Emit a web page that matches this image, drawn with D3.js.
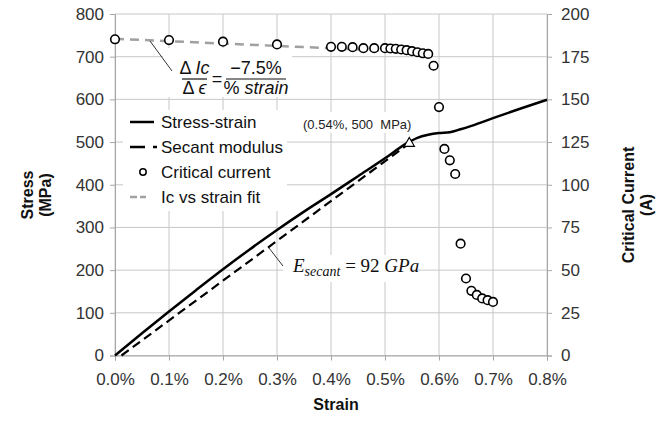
<!DOCTYPE html>
<html>
<head>
<meta charset="utf-8">
<script src="https://cdn.jsdelivr.net/npm/d3@7"></script>
<style>
  body { margin: 0; background: #fff; }
  text { font-family: "Liberation Sans", Arial, sans-serif; }
  .math { font-family: "Liberation Serif", "Times New Roman", serif; }
</style>
</head>
<body>
<div id="chart"></div>
<script>
// tick values
const strainTicks = [0, 0.1, 0.2, 0.3, 0.4, 0.5, 0.6, 0.7, 0.8];
const stressTicks = [0, 100, 200, 300, 400, 500, 600, 700, 800];
const currentTicks = [0, 25, 50, 75, 100, 125, 150, 175, 200];

// stress-strain curve (strain %, MPa)
const ssStrain = [0, 0.05, 0.10, 0.15, 0.20, 0.25, 0.30, 0.35, 0.40, 0.45, 0.50, 0.54, 0.56, 0.58, 0.60, 0.62, 0.64, 0.66, 0.70, 0.75, 0.80];
const ssStress = [0, 52, 103, 153, 202, 249, 294, 337, 378, 420, 462, 497, 510, 517, 521, 523, 530, 538, 556, 578, 599];

// secant modulus line
const secantStrain = [0.012, 0.545];
const secantStress = [0, 497];

// critical current (strain %, A)
const icStrain = [0, 0.1, 0.2, 0.3, 0.4, 0.42, 0.44, 0.46, 0.48, 0.50, 0.51, 0.52, 0.53, 0.54, 0.55, 0.56, 0.57, 0.58, 0.59, 0.60, 0.61, 0.62, 0.63, 0.64, 0.65, 0.66, 0.67, 0.68, 0.69, 0.70];
const icCurrent = [185.2, 184.7, 183.8, 182.2, 180.8, 180.8, 180.6, 180.0, 180.0, 180.0, 179.8, 179.6, 179.2, 178.8, 178.2, 177.6, 177.0, 176.6, 169.7, 145.5, 121, 114.3, 106.3, 65.5, 45.1, 37.9, 35.5, 33.4, 32.4, 31.4];

// Ic vs strain fit
const fitStrain = [0, 0.58];
const fitCurrent = [185.5, 177.4];

// marked point
const markStrain = [0.545];
const markStress = [497];

const W = 670, H = 436;
const pLeft = 115, pRight = 547, pTop = 14, pBottom = 355.5;

const svg = d3.select('#chart').append('svg')
    .attr('width', W)
    .attr('height', H);

const x = d3.scaleLinear().domain([0, 0.8]).range([pLeft, pRight]);
const y = d3.scaleLinear().domain([0, 800]).range([pBottom, pTop]);
const y2 = d3.scaleLinear().domain([0, 200]).range([pBottom, pTop]);

// grid
svg.append('g').selectAll('line')
    .data(stressTicks)
    .enter().append('line')
    .attr('x1', pLeft).attr('x2', pRight)
    .attr('y1', d => y(d)).attr('y2', d => y(d))
    .attr('stroke', '#c8c8c8');
svg.append('g').selectAll('line')
    .data(strainTicks)
    .enter().append('line')
    .attr('x1', d => x(d)).attr('x2', d => x(d))
    .attr('y1', pTop).attr('y2', pBottom)
    .attr('stroke', '#c8c8c8');

// axes
const fmtPct = d => d3.format('.1f')(d) + '%';
const xAxis = svg.append('g').attr('transform', `translate(0,${pBottom})`)
    .call(d3.axisBottom(x).tickValues(strainTicks).tickFormat(fmtPct).tickSize(5).tickPadding(12));
const yAxis = svg.append('g').attr('transform', `translate(${pLeft},0)`)
    .call(d3.axisLeft(y).tickValues(stressTicks).tickSize(5).tickPadding(6));
const y2Axis = svg.append('g').attr('transform', `translate(${pRight},0)`)
    .call(d3.axisRight(y2).tickValues(currentTicks).tickSize(5).tickPadding(9));

[xAxis, yAxis, y2Axis].forEach(g => {
    g.select('.domain').attr('stroke', '#a6a6a6');
    g.selectAll('.tick line').attr('stroke', '#a6a6a6');
    g.selectAll('text')
        .attr('font-size', 17)
        .attr('fill', '#333')
        .style('font-family', '"Liberation Sans", Arial, sans-serif');
});

// white label boxes that cover the grid
svg.append('rect').attr('x', 163).attr('y', 48).attr('width', 129).attr('height', 49).attr('fill', '#fff');
svg.append('rect').attr('x', 300).attr('y', 112).attr('width', 112).attr('height', 21).attr('fill', '#fff');
svg.append('rect').attr('x', 283).attr('y', 255).attr('width', 130).attr('height', 27).attr('fill', '#fff');
svg.append('rect').attr('x', 123).attr('y', 110).attr('width', 164).attr('height', 101).attr('fill', '#fff');

// Ic fit line
const fitLine = d3.line().x(i => x(fitStrain[i])).y(i => y2(fitCurrent[i]));
svg.append('path')
    .attr('d', fitLine(d3.range(fitStrain.length)))
    .attr('fill', 'none')
    .attr('stroke', '#a0a0a0')
    .attr('stroke-width', 2.5)
    .attr('stroke-dasharray', '9,6');

// secant line
const secLine = d3.line().x(i => x(secantStrain[i])).y(i => y(secantStress[i]));
svg.append('path')
    .attr('d', secLine(d3.range(secantStrain.length)))
    .attr('fill', 'none')
    .attr('stroke', '#000')
    .attr('stroke-width', 2.2)
    .attr('stroke-dasharray', '9,5');

// stress-strain curve
const ssLine = d3.line().x(i => x(ssStrain[i])).y(i => y(ssStress[i])).curve(d3.curveMonotoneX);
svg.append('path')
    .attr('d', ssLine(d3.range(ssStrain.length)))
    .attr('fill', 'none')
    .attr('stroke', '#000')
    .attr('stroke-width', 2.5);

// triangle marker
svg.selectAll('.mark')
    .data(d3.range(markStrain.length))
    .enter().append('path')
    .attr('class', 'mark')
    .attr('d', d3.symbol().type(d3.symbolTriangle).size(45))
    .attr('transform', i => `translate(${x(markStrain[i])},${y(markStress[i])})`)
    .attr('fill', '#fff')
    .attr('stroke', '#000')
    .attr('stroke-width', 1.2);

// critical current points
svg.selectAll('.ic')
    .data(d3.range(icStrain.length))
    .enter().append('circle')
    .attr('class', 'ic')
    .attr('cx', i => x(icStrain[i]))
    .attr('cy', i => y2(icCurrent[i]))
    .attr('r', 4.3)
    .attr('fill', '#fff')
    .attr('stroke', '#000')
    .attr('stroke-width', 1.6);

// legend
const lg = svg.append('g');
const rows = [122, 147, 172, 197];
lg.append('line').attr('x1', 130).attr('x2', 154).attr('y1', rows[0]).attr('y2', rows[0])
    .attr('stroke', '#000').attr('stroke-width', 2.5);
lg.append('line').attr('x1', 130).attr('x2', 157).attr('y1', rows[1]).attr('y2', rows[1])
    .attr('stroke', '#000').attr('stroke-width', 2.5).attr('stroke-dasharray', '15,8,4');
lg.append('circle').attr('cx', 143).attr('cy', rows[2]).attr('r', 3.2)
    .attr('fill', '#fff').attr('stroke', '#000').attr('stroke-width', 1.5);
lg.append('line').attr('x1', 130).attr('x2', 146).attr('y1', rows[3]).attr('y2', rows[3])
    .attr('stroke', '#a0a0a0').attr('stroke-width', 2.5).attr('stroke-dasharray', '7,3');
lg.selectAll('text')
    .data(['Stress-strain', 'Secant modulus', 'Critical current', 'Ic vs strain fit'])
    .enter().append('text')
    .attr('x', 161)
    .attr('y', (d, i) => rows[i])
    .attr('dy', '0.35em')
    .attr('font-size', 17)
    .attr('fill', '#111')
    .text(d => d);

// annotation: point label
svg.append('text')
    .attr('x', 303).attr('y', 124).attr('dy', '0.35em')
    .attr('font-size', 13).attr('fill', '#222')
    .text('(0.54%, 500\u00a0 MPa)');

// annotation: Ic slope
svg.append('line').attr('x1', 150).attr('y1', 41).attr('x2', 172).attr('y2', 71)
    .attr('stroke', '#333').attr('stroke-width', 1);
const fr = svg.append('g').attr('class', 'math').attr('font-size', 18).attr('fill', '#111');
const n1 = fr.append('text').attr('x', 194.5).attr('y', 74).attr('text-anchor', 'middle');
n1.append('tspan').text('Δ ');
n1.append('tspan').attr('font-style', 'italic').text('Ic');
const d1 = fr.append('text').attr('x', 194.5).attr('y', 94).attr('text-anchor', 'middle');
d1.append('tspan').text('Δ ');
d1.append('tspan').attr('font-style', 'italic').text('ϵ');
fr.append('line').attr('x1', 182).attr('x2', 207).attr('y1', 79).attr('y2', 79).attr('stroke', '#111').attr('stroke-width', 1.2);
fr.append('text').attr('x', 217).attr('y', 85).attr('text-anchor', 'middle').text('=');
fr.append('text').attr('x', 256).attr('y', 74).attr('text-anchor', 'middle').text('−7.5%');
const d2 = fr.append('text').attr('x', 256).attr('y', 94).attr('text-anchor', 'middle');
d2.append('tspan').text('% ');
d2.append('tspan').attr('font-style', 'italic').text('strain');
fr.append('line').attr('x1', 226).attr('x2', 286).attr('y1', 79).attr('y2', 79).attr('stroke', '#111').attr('stroke-width', 1.2);

// annotation: secant modulus
svg.append('line').attr('x1', 269).attr('y1', 248).attr('x2', 283).attr('y2', 266)
    .attr('stroke', '#333').attr('stroke-width', 1);
const es = svg.append('text').attr('class', 'math').attr('x', 293).attr('y', 272)
    .attr('font-size', 19).attr('fill', '#111');
es.append('tspan').attr('font-style', 'italic').text('E');
es.append('tspan').attr('font-style', 'italic').attr('font-size', 14).attr('dy', 4).text('secant');
es.append('tspan').attr('dy', -4).text(' = 92 ');
es.append('tspan').attr('font-style', 'italic').text('GPa');

// axis titles
const ttl = svg.append('g').attr('font-size', 16).attr('font-weight', 'bold').attr('fill', '#111');
ttl.append('text').attr('x', 336).attr('y', 410).attr('text-anchor', 'middle').text('Strain');
const yt = ttl.append('text').attr('transform', 'translate(36,195) rotate(-90)').attr('text-anchor', 'middle');
yt.append('tspan').attr('x', 0).attr('dy', '-0.2em').text('Stress');
yt.append('tspan').attr('x', 0).attr('dy', '1.15em').text('(MPa)');
const y2t = ttl.append('text').attr('transform', 'translate(637,205) rotate(-90)').attr('text-anchor', 'middle');
y2t.append('tspan').attr('x', 0).attr('dy', '-0.2em').text('Critical Current');
y2t.append('tspan').attr('x', 0).attr('dy', '1.15em').text('(A)');
</script>
</body>
</html>
